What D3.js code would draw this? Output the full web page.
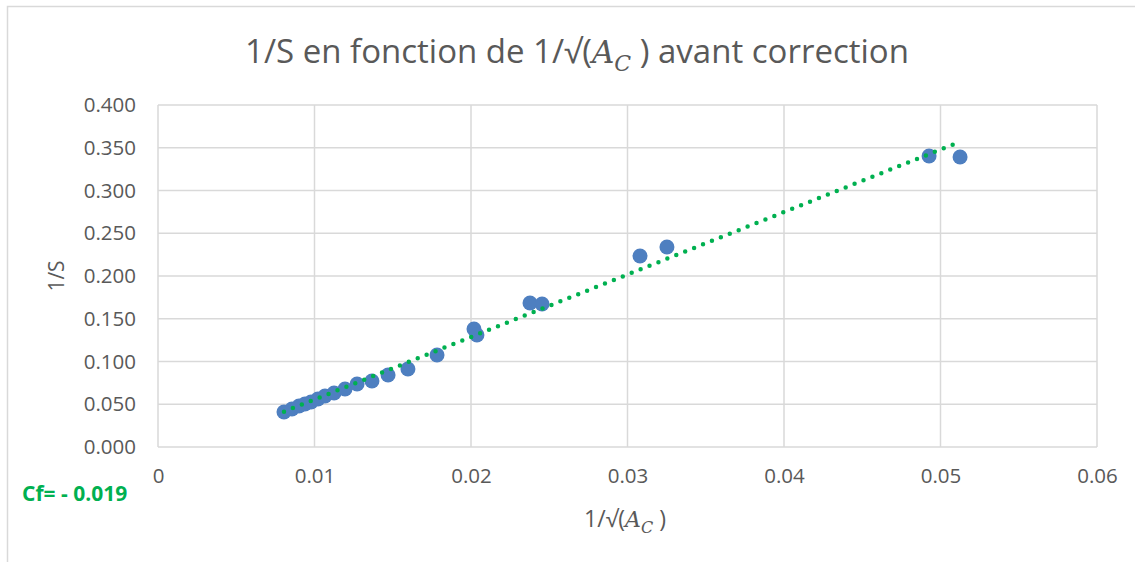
<!DOCTYPE html>
<html><head><meta charset="utf-8">
<script src="https://cdn.jsdelivr.net/npm/d3@7"></script>
<style>
html,body{margin:0;padding:0;background:#fff;}
svg{display:block;}
</style></head>
<body>
<svg id="chart" width="1135" height="562"></svg>
<script>
// ---- data ----
const invSqrtA = [0.00805,0.00856,0.00901,0.00939,0.00978,0.01022,0.01067,0.01125,0.01195,0.01272,0.01367,0.01470,0.01597,0.01783,0.02019,0.02038,0.02377,0.02454,0.03080,0.03252,0.04927,0.05125];
const invS     = [0.0409,0.0444,0.0480,0.0503,0.0526,0.0561,0.0596,0.0632,0.0678,0.0737,0.0772,0.0842,0.0912,0.1076,0.1380,0.1310,0.1684,0.1673,0.2234,0.2339,0.3404,0.3392];
const xTicks = [0,0.01,0.02,0.03,0.04,0.05,0.06];
const xTickLabels = ["0","0.01","0.02","0.03","0.04","0.05","0.06"];
const yTicks = [0,0.05,0.1,0.15,0.2,0.25,0.3,0.35,0.4];
const yTickLabels = ["0.000","0.050","0.100","0.150","0.200","0.250","0.300","0.350","0.400"];
const cfLabel = "Cf= - 0.019";

(function(){
const svg = d3.select("#chart");
const W = 1135, H = 562;
const pL = 158, pR = 1097, pT = 105, pB = 447;
const x = d3.scaleLinear().domain([0,0.06]).range([pL,pR]);
const y = d3.scaleLinear().domain([0,0.4]).range([pB,pT]);
const font = "'Open Sans', 'Noto Sans', sans-serif";
const grey = "#595959";

// outer chart border
svg.append("path").attr("d",`M7.5,${H} V6.5 H${W}`).attr("fill","none").attr("stroke","#d9d9d9").attr("stroke-width",1.5);

// gridlines
const g = svg.append("g");
g.selectAll(".hg").data(yTicks).join("line")
  .attr("x1",pL).attr("x2",pR).attr("y1",d=>y(d)).attr("y2",d=>y(d))
  .attr("stroke","#d9d9d9").attr("stroke-width",1.5);
g.selectAll(".vg").data(xTicks).join("line")
  .attr("y1",pT).attr("y2",pB).attr("x1",d=>x(d)).attr("x2",d=>x(d))
  .attr("stroke","#d9d9d9").attr("stroke-width",1.5);

// axes
const ax = svg.append("g").attr("transform",`translate(0,${pB})`)
  .call(d3.axisBottom(x).tickValues(xTicks).tickFormat((d,i)=>xTickLabels[i]).tickSize(0).tickPadding(21));
const ay = svg.append("g").attr("transform",`translate(${pL},0)`)
  .call(d3.axisLeft(y).tickValues(yTicks).tickFormat((d,i)=>yTickLabels[i]).tickSize(0).tickPadding(22));
[ax,ay].forEach(a=>{
  a.select(".domain").remove();
  a.selectAll("text").attr("font-family",font).attr("font-size",20.5).attr("fill",grey);
});

// points
const pts = invSqrtA.map((v,i)=>({x:v,y:invS[i]}));
svg.append("g").selectAll("circle").data(pts).join("circle")
  .attr("cx",d=>x(d.x)).attr("cy",d=>y(d.y)).attr("r",7.5)
  .attr("fill","#4e7fc0");

// linear trendline (least squares)
const mx = d3.mean(pts,d=>d.x), my = d3.mean(pts,d=>d.y);
const slope = d3.sum(pts,d=>(d.x-mx)*(d.y-my))/d3.sum(pts,d=>(d.x-mx)*(d.x-mx));
const icpt = my - slope*mx;
const [xmin,xmax] = d3.extent(invSqrtA);
svg.append("line")
  .attr("x1",x(xmin)).attr("y1",y(icpt+slope*xmin))
  .attr("x2",x(xmax)).attr("y2",y(icpt+slope*xmax))
  .attr("stroke","#00b050").attr("stroke-width",4.5)
  .attr("stroke-linecap","round").attr("stroke-dasharray","0 9.6");

// title
const t = svg.append("text").attr("x",577).attr("y",63).attr("text-anchor","middle")
  .attr("font-family",font).attr("font-size",33).attr("fill",grey);
t.append("tspan").text("1/S en fonction de 1/√(");
t.append("tspan").attr("font-family","'DejaVu Serif', serif").attr("font-style","italic").attr("font-size",31).text("A");
t.append("tspan").attr("font-family","'DejaVu Serif', serif").attr("font-style","italic").attr("font-size",22).attr("dy",8).text("C");
t.append("tspan").attr("dy",-8).text(" ) avant correction");

// x axis title
const xt = svg.append("text").attr("x",625).attr("y",527).attr("text-anchor","middle")
  .attr("font-family",font).attr("font-size",23).attr("fill",grey);
xt.append("tspan").text("1/√(");
xt.append("tspan").attr("font-family","'DejaVu Serif', serif").attr("font-style","italic").attr("font-size",22).text("A");
xt.append("tspan").attr("font-family","'DejaVu Serif', serif").attr("font-style","italic").attr("font-size",16).attr("dy",6).text("C");
xt.append("tspan").attr("dy",-6).text(" )");

// y axis title
svg.append("text").attr("transform","translate(64,276) rotate(-90)").attr("text-anchor","middle")
  .attr("font-family",font).attr("font-size",21).attr("fill",grey).text("1/S");

// Cf label
svg.append("text").attr("x",22).attr("y",501)
  .attr("font-family",font).attr("font-size",21).attr("font-weight","bold").attr("fill","#00b050").text(cfLabel);
})();
</script>
</body></html>
